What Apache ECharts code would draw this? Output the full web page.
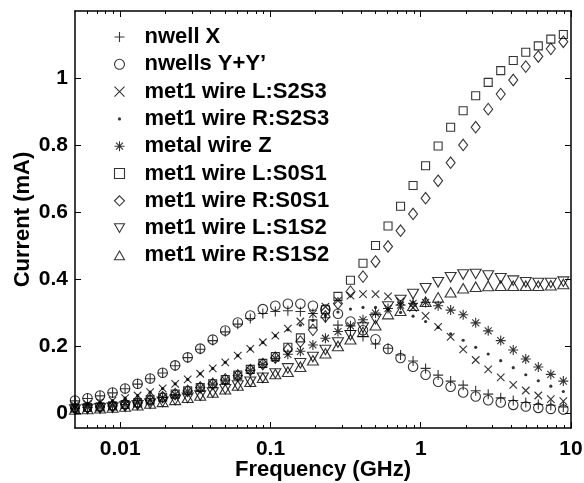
<!DOCTYPE html>
<html>
<head>
<meta charset="utf-8">
<script src="https://cdn.jsdelivr.net/npm/echarts@6/dist/echarts.min.js"></script>
<style>
  html, body { margin: 0; padding: 0; background: #fff; }
  #chart { width: 584px; height: 483px; }
</style>
</head>
<body>
<div id="chart"></div>
<script>
// frequency points (GHz), 12 per decade
const freqGHz = [0.005, 0.0060576, 0.007339, 0.0088914, 0.010772, 0.013051, 0.015811, 0.019156, 0.023208, 0.028117,
  0.034065, 0.04127, 0.05, 0.060576, 0.07339, 0.088914, 0.10772, 0.13051, 0.15811, 0.19156,
  0.23208, 0.28117, 0.34065, 0.4127, 0.5, 0.60576, 0.7339, 0.88914, 1.0772, 1.3051,
  1.5811, 1.9156, 2.3208, 2.8117, 3.4065, 4.127, 5, 6.0576, 7.339, 8.8914]

// currents (mA)
const nwellX = [0.036, 0.043, 0.051, 0.060, 0.072, 0.086, 0.102, 0.119, 0.141, 0.165, 0.190, 0.216, 0.242, 0.265, 0.282, 0.297, 0.303, 0.305, 0.303, 0.297,
  0.284, 0.262, 0.246, 0.228, 0.206, 0.193, 0.173, 0.155, 0.133, 0.113, 0.095, 0.083, 0.066, 0.056, 0.045, 0.037, 0.031, 0.025, 0.023, 0.018]
const nwellsY = [0.037, 0.044, 0.052, 0.061, 0.073, 0.087, 0.103, 0.120, 0.142, 0.166, 0.192, 0.219, 0.246, 0.270, 0.291, 0.310, 0.320, 0.326, 0.326, 0.320,
  0.309, 0.296, 0.273, 0.247, 0.220, 0.191, 0.164, 0.138, 0.114, 0.093, 0.078, 0.061, 0.049, 0.038, 0.031, 0.024, 0.019, 0.015, 0.012, 0.010]
const met1LS2S3 = [0.022, 0.026, 0.031, 0.037, 0.044, 0.052, 0.062, 0.073, 0.087, 0.100, 0.117, 0.133, 0.151, 0.171, 0.191, 0.211, 0.231, 0.252, 0.273, 0.296,
  0.317, 0.335, 0.350, 0.355, 0.355, 0.348, 0.333, 0.314, 0.290, 0.257, 0.227, 0.190, 0.158, 0.130, 0.106, 0.084, 0.067, 0.052, 0.041, 0.035]
const met1RS2S3 = [0.022, 0.026, 0.031, 0.037, 0.044, 0.052, 0.062, 0.073, 0.087, 0.100, 0.117, 0.133, 0.151, 0.171, 0.191, 0.210, 0.230, 0.248, 0.262, 0.276,
  0.290, 0.301, 0.310, 0.315, 0.315, 0.310, 0.300, 0.289, 0.273, 0.255, 0.236, 0.217, 0.196, 0.176, 0.156, 0.135, 0.114, 0.096, 0.080, 0.064]
const metalZ = [0.014, 0.016, 0.018, 0.021, 0.025, 0.030, 0.038, 0.046, 0.055, 0.065, 0.075, 0.086, 0.098, 0.111, 0.127, 0.145, 0.163, 0.175, 0.184, 0.203,
  0.223, 0.243, 0.260, 0.278, 0.298, 0.312, 0.322, 0.327, 0.330, 0.320, 0.307, 0.293, 0.269, 0.245, 0.216, 0.188, 0.161, 0.137, 0.115, 0.095]
const met1LS0S1 = [0.014, 0.016, 0.018, 0.021, 0.025, 0.030, 0.039, 0.047, 0.056, 0.066, 0.076, 0.087, 0.100, 0.113, 0.130, 0.148, 0.168, 0.196, 0.224, 0.266,
  0.308, 0.348, 0.396, 0.447, 0.500, 0.558, 0.617, 0.679, 0.738, 0.797, 0.853, 0.902, 0.947, 0.987, 1.022, 1.052, 1.077, 1.096, 1.116, 1.130]
const met1RS0S1 = [0.014, 0.016, 0.018, 0.021, 0.025, 0.030, 0.039, 0.047, 0.056, 0.066, 0.076, 0.087, 0.100, 0.112, 0.128, 0.146, 0.165, 0.190, 0.213, 0.248,
  0.288, 0.327, 0.362, 0.407, 0.452, 0.497, 0.544, 0.594, 0.641, 0.693, 0.747, 0.800, 0.853, 0.907, 0.952, 0.994, 1.034, 1.064, 1.087, 1.108]
const met1LS1S2 = [0.010, 0.012, 0.014, 0.016, 0.019, 0.023, 0.028, 0.033, 0.039, 0.045, 0.052, 0.061, 0.071, 0.082, 0.093, 0.105, 0.118, 0.133, 0.148, 0.167,
  0.188, 0.210, 0.232, 0.255, 0.280, 0.318, 0.337, 0.355, 0.372, 0.390, 0.405, 0.413, 0.415, 0.410, 0.402, 0.395, 0.390, 0.388, 0.388, 0.392]
const met1RS1S2 = [0.010, 0.012, 0.014, 0.016, 0.019, 0.023, 0.028, 0.033, 0.039, 0.045, 0.052, 0.061, 0.071, 0.082, 0.093, 0.105, 0.116, 0.123, 0.138, 0.157,
  0.178, 0.200, 0.220, 0.242, 0.262, 0.295, 0.305, 0.320, 0.332, 0.345, 0.360, 0.372, 0.377, 0.379, 0.380, 0.380, 0.380, 0.380, 0.381, 0.385]

const xMajorTicks = [0.01, 0.1, 1, 10]
const xMinorTicks = [0.006, 0.007, 0.008, 0.009, 0.02, 0.03, 0.04, 0.05, 0.06, 0.07, 0.08, 0.09,
  0.2, 0.3, 0.4, 0.5, 0.6, 0.7, 0.8, 0.9, 2, 3, 4, 5, 6, 7, 8, 9]
const yTicks = [0, 0.2, 0.4, 0.6, 0.8, 1]

const FONT = 'Liberation Sans, Arial, Helvetica, sans-serif'

// marker shapes (MATLAB style)
const SYM = {
  plus: 'path://M0,5L10,5M5,0L5,10',
  cross: 'path://M0,0L10,10M0,10L10,0',
  dot: 'path://M0,0L0,0M10,10L10,10M5,3.4A1.6,1.6,0,1,1,5,6.6A1.6,1.6,0,1,1,5,3.4Z',
  star: 'path://M5,0L5,10M0,5L10,5M1.5,1.5L8.5,8.5M1.5,8.5L8.5,1.5',
  triDown: 'path://M0,0L10,0L5,8.66Z',
  triUp: 'path://M5,0L10,8.66L0,8.66Z'
}

const seriesDefs = [
  { name: 'nwell X', values: nwellX, symbol: SYM.plus, size: 10 },
  { name: 'nwells Y+Y\u2019', values: nwellsY, symbol: 'circle', size: 9.5 },
  { name: 'met1 wire L:S2S3', values: met1LS2S3, symbol: SYM.cross, size: 7.5 },
  { name: 'met1 wire R:S2S3', values: met1RS2S3, symbol: SYM.dot, size: 10, dot: true },
  { name: 'metal wire Z', values: metalZ, symbol: SYM.star, size: 10 },
  { name: 'met1 wire L:S0S1', values: met1LS0S1, symbol: 'rect', size: 8 },
  { name: 'met1 wire R:S0S1', values: met1RS0S1, symbol: 'diamond', size: [9, 11.5] },
  { name: 'met1 wire L:S1S2', values: met1LS1S2, symbol: SYM.triDown, size: [11, 9.5] },
  { name: 'met1 wire R:S1S2', values: met1RS1S2, symbol: SYM.triUp, size: [11, 9.5] }
]

const mychart = echarts.init(document.getElementById('chart'))

const series = seriesDefs.map(d => ({
  type: 'scatter',
  name: d.name,
  xAxisIndex: 0,
  yAxisIndex: 0,
  symbol: d.symbol,
  symbolSize: d.size,
  data: freqGHz.map((f, i) => [f, d.values[i]]),
  itemStyle: d.dot
    ? { color: '#000', borderWidth: 0 }
    : { color: 'none', borderColor: '#000', borderWidth: 1.1 },
  emphasis: { disabled: true }
}))

const logAxis = (pos, ticks, len, showLine, showLabel) => ({
  type: 'log',
  logBase: 10,
  position: pos,
  min: 0.005,
  max: 10,
  splitLine: { show: false },
  axisLine: { show: showLine, onZero: false, lineStyle: { color: '#000', width: 1.5 } },
  axisTick: { show: true, inside: true, length: len, customValues: ticks, lineStyle: { color: '#000', width: 1 } },
  axisLabel: {
    show: showLabel,
    customValues: xMajorTicks,
    margin: 11,
    color: '#000',
    fontFamily: FONT,
    fontWeight: 'bold',
    fontSize: 21
  }
})

const valAxis = (pos, showLabel) => ({
  type: 'value',
  position: pos,
  min: -0.045,
  max: 1.2,
  splitLine: { show: false },
  axisLine: { show: true, onZero: false, lineStyle: { color: '#000', width: 1.5 } },
  axisTick: { show: true, inside: true, length: 6, customValues: yTicks, lineStyle: { color: '#000', width: 1 } },
  axisLabel: {
    show: showLabel,
    customValues: yTicks,
    margin: 7,
    color: '#000',
    fontFamily: FONT,
    fontWeight: 'bold',
    fontSize: 21
  }
})

const xMain = logAxis('bottom', xMajorTicks, 6, true, true)
xMain.name = 'Frequency (GHz)'
xMain.nameLocation = 'middle'
xMain.nameGap = 31
xMain.nameMoveOverlap = false
xMain.nameTextStyle = { color: '#000', fontFamily: FONT, fontWeight: 'bold', fontSize: 22 }

const yMain = valAxis('left', true)
yMain.name = 'Current (mA)'
yMain.nameLocation = 'middle'
yMain.nameGap = 41
yMain.nameMoveOverlap = false
yMain.nameTextStyle = { color: '#000', fontFamily: FONT, fontWeight: 'bold', fontSize: 22 }

mychart.setOption({
  animation: false,
  backgroundColor: '#fff',
  grid: { left: 75, right: 13, top: 11, bottom: 55, outerBoundsMode: 'none', containLabel: false },
  xAxis: [
    xMain,
    logAxis('top', xMajorTicks, 6, true, false),
    logAxis('bottom', xMinorTicks, 3, false, false),
    logAxis('top', xMinorTicks, 3, false, false)
  ],
  yAxis: [yMain, valAxis('right', false)],
  legend: {
    orient: 'vertical',
    left: 112,
    top: 26,
    padding: 0,
    itemWidth: 10,
    itemHeight: 10,
    itemGap: 5.3,
    selectedMode: false,
    itemStyle: { borderWidth: 1.1 },
    textStyle: {
      color: '#000',
      fontFamily: FONT,
      fontWeight: 'bold',
      fontSize: 22,
      lineHeight: 22,
      padding: [0, 0, 0, 15]
    },
    data: seriesDefs.map(d => d.dot ? { name: d.name, itemStyle: { borderWidth: 0 } } : { name: d.name })
  },
  series: series
})
</script>
</body>
</html>
